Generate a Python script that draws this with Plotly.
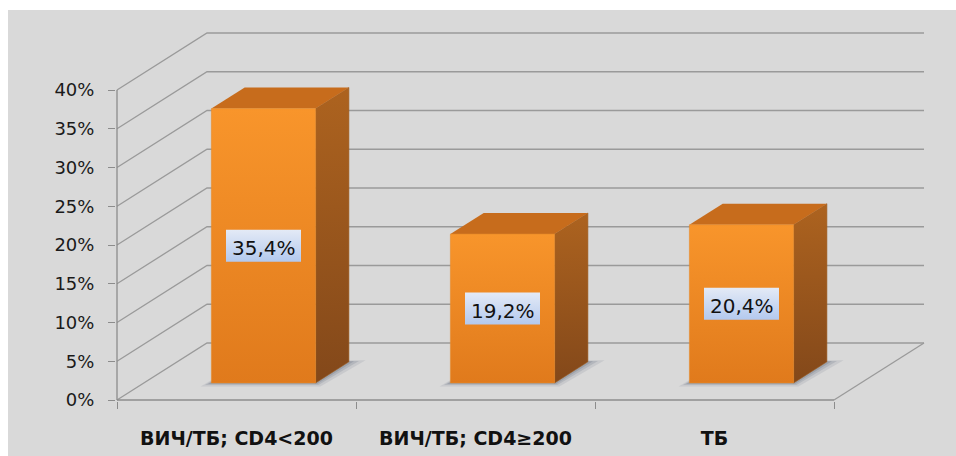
import plotly.graph_objects as go

# ---------------- data ----------------
categories = ["ВИЧ/ТБ; CD4<200", "ВИЧ/ТБ; CD4≥200", "ТБ"]
values = [35.4, 19.2, 20.4]
y_ticks = [0, 5, 10, 15, 20, 25, 30, 35, 40]
y_tick_labels = [f"{v}%" for v in y_ticks]

# ---------------- 3D geometry (oblique projection) ----------------
PX_X = 239.0          # pixels per category unit
PX_Y = 7.75           # pixels per percent
DX = 90 / PX_X        # full depth offset along x (data units)
DY = 57 / PX_Y        # full depth offset along y (data units)
F0, F1 = 0.30, 0.67   # bar front/back depth fractions
HALF_W = 0.218        # half bar width (category units)

n = len(categories)
fig = go.Figure()

grid_color = "#9a9a9a"
axis_color = "#8c8c8c"


def add_line(xs, ys, color=grid_color, width=1.3):
    fig.add_trace(go.Scatter(x=xs, y=ys, mode="lines",
                             line=dict(color=color, width=width),
                             hoverinfo="skip", showlegend=False))


def add_poly(xs, ys, color=None, grad=None, line_color="rgba(0,0,0,0)", lw=0):
    kw = dict(x=xs, y=ys, mode="lines", fill="toself",
              line=dict(color=line_color, width=lw),
              hoverinfo="skip", showlegend=False)
    if grad is not None:
        kw["fillgradient"] = grad
        kw["fillcolor"] = None
    else:
        kw["fillcolor"] = color
    fig.add_trace(go.Scatter(**kw))


# walls: side-wall diagonals + back-wall horizontals
for v in y_ticks:
    add_line([0, DX, n + DX], [v, v + DY, v + DY])
# floor right edge
add_line([n, n + DX], [0, DY])
# front axes
add_line([0, 0], [0, y_ticks[-1]], color=axis_color)
add_line([0, n], [0, 0], color=axis_color)

ddx = (F1 - F0) * DX
ddy = (F1 - F0) * DY

# shadows
for i, v in enumerate(values):
    cx = i + 0.5 + F0 * DX
    xl, xr = cx - HALF_W, cx + HALF_W
    y0 = F0 * DY
    for k, alpha in ((1.0, 0.10), (0.6, 0.14), (0.3, 0.18)):
        add_poly([xl - 0.045 * k, xr + 0.02 * k, xr + ddx + 0.07 * k, xl + ddx, xl - 0.045 * k],
                 [y0 - 0.45 * k, y0 - 0.45 * k, y0 + ddy + 0.2 * k, y0 + ddy + 0.2 * k, y0 - 0.45 * k],
                 color=f"rgba(60,70,95,{alpha})")

# bars
for i, v in enumerate(values):
    cx = i + 0.5 + F0 * DX
    xl, xr = cx - HALF_W, cx + HALF_W
    y0 = F0 * DY
    y1 = v + F0 * DY
    # side face
    add_poly([xr, xr + ddx, xr + ddx, xr, xr],
             [y0, y0 + ddy, y1 + ddy, y1, y0],
             grad=dict(type="vertical", start=y0, stop=y1 + ddy,
                       colorscale=[[0, "#83481a"], [1, "#ad631f"]]),
             line_color="#9a5a1e", lw=0.6)
    # top face
    add_poly([xl, xr, xr + ddx, xl + ddx, xl],
             [y1, y1, y1 + ddy, y1 + ddy, y1],
             color="#c76c1c")
    # front face
    add_poly([xl, xr, xr, xl, xl],
             [y0, y0, y1, y1, y0],
             grad=dict(type="vertical", start=y0, stop=y1,
                       colorscale=[[0, "#e07a1c"], [1, "#f8952b"]]),
             line_color="#e58a2a", lw=0.6)

# value label boxes (gradient) + text
BOX_HW = 37.5 / PX_X
BOX_HH = 16 / PX_Y
annotations = []
for i, v in enumerate(values):
    cx = i + 0.5 + F0 * DX
    ym = F0 * DY + v / 2
    add_poly([cx - BOX_HW, cx + BOX_HW, cx + BOX_HW, cx - BOX_HW, cx - BOX_HW],
             [ym - BOX_HH, ym - BOX_HH, ym + BOX_HH, ym + BOX_HH, ym - BOX_HH],
             grad=dict(type="vertical", start=ym - BOX_HH, stop=ym + BOX_HH,
                       colorscale=[[0, "#b3c9ee"], [1, "#e4eaf6"]]))
    annotations.append(dict(x=cx, y=ym, xref="x", yref="y", yshift=-2,
                            text=f"{v:.1f}".replace(".", ",") + "%",
                            showarrow=False,
                            font=dict(family="DejaVu Sans", size=20, color="#111111")))

# background panel
L, R, T, B = 116, 22, 24, 55
W, H = 956, 456
pw, ph = W - L - R, H - T - B
shapes = [dict(type="rect", xref="paper", yref="paper",
               x0=(8 - L) / pw, x1=(W + 4 - L) / pw,
               y0=(H - B - (H + 4)) / ph, y1=(H - B - 10) / ph,
               fillcolor="#d9d9d9", line=dict(width=0), layer="below")]

fig.update_layout(
    width=W, height=H,
    margin=dict(l=L, r=R, t=T, b=B, autoexpand=False),
    paper_bgcolor="white",
    plot_bgcolor="rgba(0,0,0,0)",
    showlegend=False,
    shapes=shapes,
    annotations=annotations,
    xaxis=dict(range=[-1.0 / PX_X, (pw - 1.0) / PX_X], automargin=False,
               tickmode="array", tickvals=[i + 0.5 for i in range(n)], ticktext=categories,
               ticks="", showgrid=False, zeroline=False, showline=False, fixedrange=True,
               tickfont=dict(family="DejaVu Sans", size=19, color="#111111", weight=700),
               ticklabelstandoff=24,
               minor=dict(tickmode="array", tickvals=list(range(n + 1)), ticks="outside",
                          ticklen=7, tickwidth=1.3, tickcolor=axis_color, showgrid=False)),
    yaxis=dict(range=[-1.0 / PX_Y, (ph - 1.0) / PX_Y], automargin=False,
               tickmode="array", tickvals=y_ticks, ticktext=y_tick_labels,
               ticks="outside", ticklen=7, tickwidth=1.3, tickcolor=axis_color,
               showgrid=False, zeroline=False, showline=False, fixedrange=True,
               tickfont=dict(family="DejaVu Sans", size=18, color="#1a1a1a"),
               ticklabelstandoff=10),
)

fig.write_html("out.html")
